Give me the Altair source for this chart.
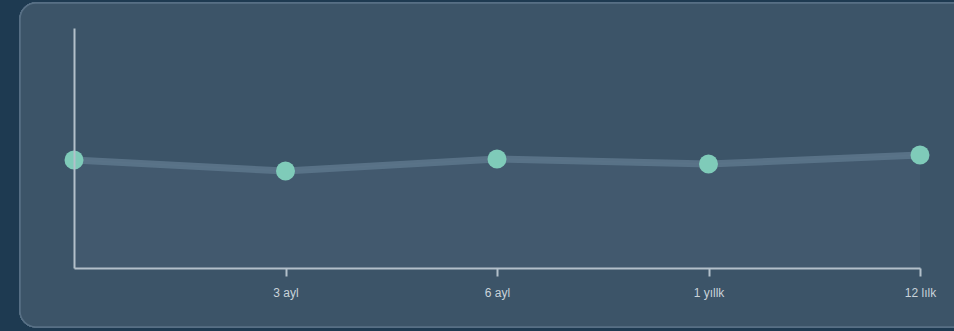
import altair as alt
import pandas as pd

# Period positions along the x axis and the value recorded at each
positions = [0, 1, 2, 3, 4]
values = [45.0, 40.4, 45.4, 43.3, 47.1]
tick_positions = [1, 2, 3, 4]
tick_labels = ["3 ayl", "6 ayl", "1 yıllk", "12 lılk"]

df = pd.DataFrame({"pos": positions, "value": values})

W, H = 846, 240
PAD = {"left": 74, "top": 28, "right": 34, "bottom": 63}

label_expr = " : ".join(
    f"datum.value == {p} ? '{t}'" for p, t in zip(tick_positions, tick_labels)
) + " : ''"

x_enc = alt.X(
    "pos:Q",
    scale=alt.Scale(domain=[0, 4], nice=False, zero=False),
    axis=alt.Axis(
        values=tick_positions,
        labelExpr=label_expr,
        labelFlush=False,
        title=None,
        grid=False,
        zindex=1,
        domainColor="#b3c0ca",
        domainWidth=2,
        tickColor="#b3c0ca",
        tickWidth=2,
        tickSize=8,
        labelColor="#c9d3da",
        labelFont="Liberation Sans",
        labelFontSize=12,
        labelPadding=11,
    ),
)
y_enc = alt.Y(
    "value:Q",
    scale=alt.Scale(domain=[0, 100], nice=False),
    axis=alt.Axis(
        title=None,
        grid=False,
        ticks=False,
        labels=False,
        zindex=1,
        domainColor="#b3c0ca",
        domainWidth=2,
    ),
)

base = alt.Chart(df)

# Rounded card behind the plot
card = base.mark_rect(
    fill="#3c5468",
    stroke="#587085",
    strokeWidth=1.5,
    cornerRadius=16,
).encode(
    x=alt.value(-54),
    x2=alt.value(W + 60),
    y=alt.value(-25),
    y2=alt.value(H + 59),
)

area = base.mark_area(
    color="#4a6277",
    opacity=0.4,
    line={"color": "#4f677c", "strokeWidth": 1.5},
).encode(x=x_enc, y=y_enc)

line = base.mark_line(color="#5b7489", strokeWidth=7, opacity=0.9).encode(x="pos:Q", y="value:Q")

points = base.mark_circle(size=360, color="#7fcbb9", opacity=1).encode(x="pos:Q", y="value:Q")

chart = (
    alt.layer(card, area, line, points)
    .properties(
        width=W,
        height=H,
        padding=PAD,
        autosize=alt.AutoSizeParams(type="none"),
        background="#1e3a51",
    )
    .configure_view(stroke=None)
)

chart.save("out.html", embed_options={"renderer": "svg", "actions": False})
